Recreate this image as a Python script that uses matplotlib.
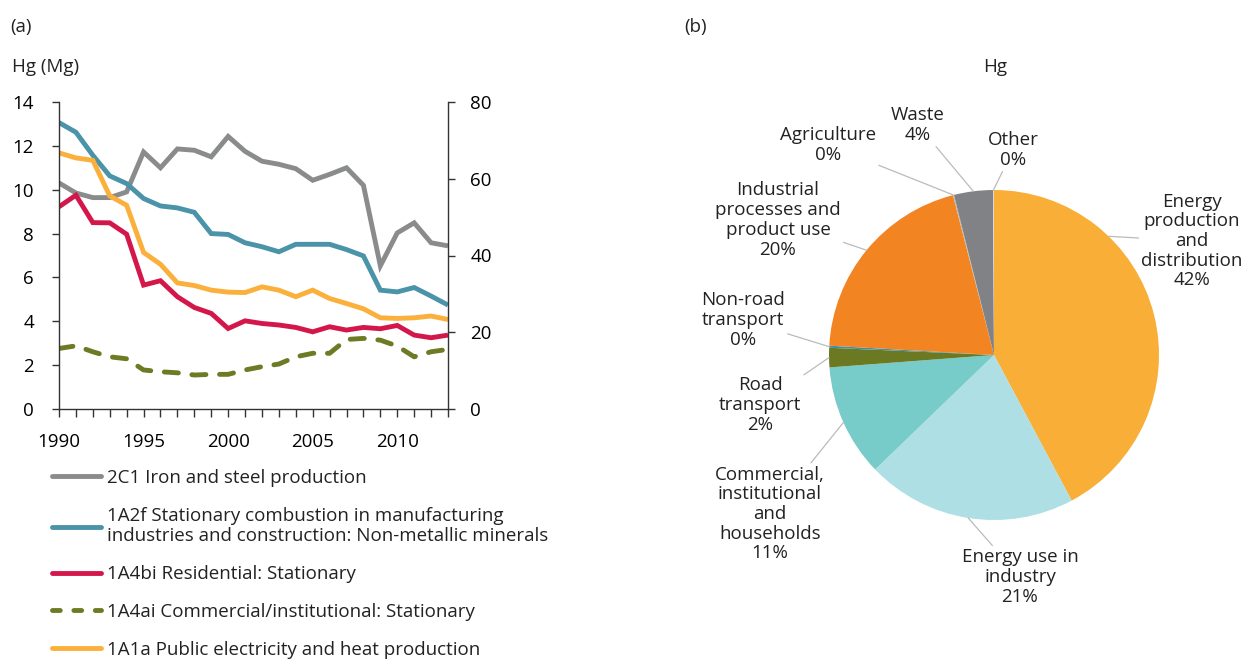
import numpy as np
import matplotlib
matplotlib.use("Agg")
import matplotlib.pyplot as plt
from matplotlib.lines import Line2D

plt.rcParams['font.family'] = ['Open Sans', 'DejaVu Sans']
plt.rcParams['font.size'] = 13.5
plt.rcParams['text.color'] = '#222222'

W, H = 1244, 660
FS = 13.5

# ---- data (a): Hg emissions by key category, Mg ----
years = list(range(1990, 2014))
iron_steel = [10.31, 9.85, 9.64, 9.64, 9.9, 11.72, 11.0, 11.86, 11.8, 11.5, 12.43, 11.75,
              11.3, 11.16, 10.96, 10.43, 10.7, 11.0, 10.2, 6.53, 8.03, 8.49, 7.58, 7.44]
non_metallic = [13.06, 12.62, 11.57, 10.63, 10.28, 9.6, 9.26, 9.17, 8.97, 8.0, 7.96, 7.58,
                7.4, 7.17, 7.51, 7.51, 7.51, 7.27, 6.98, 5.42, 5.34, 5.54, 5.15, 4.74]
residential = [9.22, 9.75, 8.5, 8.49, 7.97, 5.65, 5.85, 5.12, 4.63, 4.36, 3.67, 4.02,
               3.9, 3.83, 3.72, 3.52, 3.75, 3.6, 3.72, 3.66, 3.81, 3.37, 3.25, 3.37]
commercial = [2.76, 2.88, 2.61, 2.38, 2.29, 1.78, 1.7, 1.65, 1.55, 1.58, 1.58, 1.78,
              1.93, 2.05, 2.38, 2.54, 2.54, 3.17, 3.22, 3.14, 2.87, 2.38, 2.61, 2.72]
public_elec = [11.68, 11.45, 11.34, 9.72, 9.29, 7.14, 6.6, 5.75, 5.63, 5.42, 5.33, 5.31,
               5.57, 5.42, 5.12, 5.42, 5.04, 4.81, 4.57, 4.16, 4.13, 4.16, 4.24, 4.08]

series_labels = ['2C1 Iron and steel production',
                 '1A2f Stationary combustion in manufacturing\nindustries and construction: Non-metallic minerals',
                 '1A4bi Residential: Stationary',
                 '1A4ai Commercial/institutional: Stationary',
                 '1A1a Public electricity and heat production']

# ---- data (b): Hg shares by sector ----
sectors = ['Energy\nproduction\nand\ndistribution', 'Energy use in\nindustry',
           'Commercial,\ninstitutional\nand\nhouseholds', 'Road\ntransport',
           'Non-road\ntransport', 'Industrial\nprocesses and\nproduct use',
           'Agriculture', 'Waste', 'Other']
shares = [42.2, 20.6, 11.0, 1.9, 0.2, 20.1, 0.1, 3.8, 0.1]
share_text = ['42%', '21%', '11%', '2%', '0%', '20%', '0%', '4%', '0%']


def fx(px):
    return px / W


def fy(py):
    return 1 - py / H


fig = plt.figure(figsize=(W / 100, H / 100), dpi=100)

# ---------------- panel (a) ----------------
ax = fig.add_axes([fx(59), fy(409), (448 - 59) / W, (409 - 102) / H])
ax2 = ax.twinx()

styles = [
    (iron_steel, '#8A8B8D', '-'),
    (non_metallic, '#4A93A8', '-'),
    (residential, '#D4174A', '-'),
    (commercial, '#6E7B24', (0, (2.9, 2.8))),
    (public_elec, '#FBB03B', '-'),
]
handles = []
for vals, col, ls in styles:
    ax.plot(years, vals, color=col, lw=3.5, ls=ls,
            solid_capstyle='butt', dash_capstyle='round', solid_joinstyle='miter')
    handles.append(Line2D([], [], color=col, lw=3.5, ls=(0, (1.6, 2.8)) if ls != '-' else '-',
                          solid_capstyle='round', dash_capstyle='round'))

ax.set_xlim(1990, 2013)
ax.set_ylim(0, 14)
ax2.set_ylim(0, 80)
ax.set_yticks(range(0, 15, 2))
ax2.set_yticks(range(0, 81, 20))
ax.set_xticks(range(1990, 2011, 5))
ax.set_xticks(years, minor=True)

for a in (ax, ax2):
    a.spines['top'].set_visible(False)
    for s in a.spines.values():
        s.set_color('#333333')
        s.set_linewidth(1)
ax.spines['right'].set_visible(False)
ax2.spines['left'].set_visible(False)
ax2.spines['bottom'].set_visible(False)

ax.tick_params(axis='y', direction='out', length=5, width=1, color='#333333', pad=13, labelsize=FS)
ax2.tick_params(axis='y', direction='out', length=5, width=1, color='#333333', pad=11, labelsize=FS)
ax.tick_params(axis='x', which='both', direction='out', length=6, width=1, color='#333333', pad=11, labelsize=FS)

fig.text(fx(10), fy(27), '(a)', ha='left', va='center', fontsize=FS)
fig.text(fx(12), fy(67), 'Hg (Mg)', ha='left', va='center', fontsize=FS)

leg = fig.legend(handles, series_labels, loc='upper left', bbox_to_anchor=(fx(52), fy(469)),
                 frameon=False, fontsize=FS, handlelength=2.6, handletextpad=0.33,
                 labelspacing=1.05, borderpad=0, borderaxespad=0)
for t in leg.get_texts():
    t.set_linespacing(1.2)

# ---------------- panel (b) ----------------
cx, cy, r = 994, 355, 165
pax = fig.add_axes([fx(cx - r), fy(cy + r), 2 * r / W, 2 * r / H])
colors = ['#F9AE37', '#ADDFE5', '#77CBC8', '#6B7A22', '#3F8FA7', '#F28422',
          '#B9B9B9', '#808285', '#D9D9D9']
wedges, _ = pax.pie(shares, colors=colors, startangle=90, counterclock=False,
                    radius=1, wedgeprops=dict(linewidth=0))
pax.set_xlim(-1, 1)
pax.set_ylim(-1, 1)
pax.set_aspect('equal')
pax.axis('off')

fig.text(fx(684), fy(27), '(b)', ha='left', va='center', fontsize=FS)
fig.text(fx(995), fy(67), 'Hg', ha='center', va='center', fontsize=FS)

# label centres in pixels (layout only)
label_pos = [(1192, 241), (1020, 577), (770, 514), (760, 405), (743, 320),
             (778, 220), (828, 145), (918, 125), (1013, 150)]


def to_data(px, py):
    return ((px - cx) / r, (cy - py) / r)


for i, w in enumerate(wedges):
    ang = np.deg2rad((w.theta1 + w.theta2) / 2)
    if i == 0:
        ang = np.deg2rad(46)
    xy = (np.cos(ang), np.sin(ang))
    pax.annotate(sectors[i] + '\n' + share_text[i], xy=xy,
                 xytext=to_data(*label_pos[i]), textcoords='data',
                 ha='center', va='center', fontsize=FS, linespacing=1.12,
                 annotation_clip=False,
                 arrowprops=dict(arrowstyle='-', color='#BBBBBB', lw=0.9,
                                 shrinkA=0, shrinkB=0))

fig.savefig('out.png', dpi=100)
